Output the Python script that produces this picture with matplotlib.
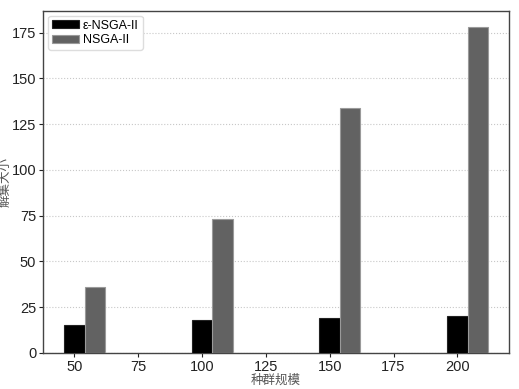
import matplotlib.pyplot as plt
import numpy as np

plt.rcParams['font.family'] = ['Liberation Sans', 'Noto Sans CJK SC', 'DejaVu Sans']

pop_size = [50, 100, 150, 200]
eps_nsga2 = [15, 18, 19, 20]
nsga2 = [36, 73, 134, 178]
labels = ['ε-NSGA-II', 'NSGA-II']

x = np.array(pop_size, dtype=float)
w = 8

fig = plt.figure(figsize=(5.19, 3.89), dpi=100)
ax = fig.add_axes([0.083, 0.093, 0.898, 0.879])
ax.bar(x, eps_nsga2, width=w, color='black', edgecolor='#222222', linewidth=0.8, label=labels[0], zorder=3)
ax.bar(x + w, nsga2, width=w, color='#626262', edgecolor='#9a9a9a', linewidth=0.8, label=labels[1], zorder=3)

ax.set_xticks([50, 75, 100, 125, 150, 175, 200])
ax.set_yticks([0, 25, 50, 75, 100, 125, 150, 175])
ax.tick_params(labelsize=10.5, colors='#222222', length=3, pad=2)
ax.yaxis.grid(True, linestyle=':', color='#c8c8c8', linewidth=0.8, zorder=0)
ax.set_axisbelow(True)
for s in ax.spines.values():
    s.set_color('#444444')
    s.set_linewidth(1.0)

ax.set_xlabel('种群规模', fontsize=9, color='#555555', family=['Noto Sans CJK SC'], labelpad=0)
ax.set_ylabel('解集大小', fontsize=9, color='#555555', family=['Noto Sans CJK SC'], labelpad=0)

ax.legend(loc='upper left', fontsize=9, handlelength=2.2, handleheight=0.6, handletextpad=0.3,
          borderpad=0.3, labelspacing=0.2, borderaxespad=0.4, framealpha=1, edgecolor='#dddddd')

fig.savefig('out.png', dpi=100)
